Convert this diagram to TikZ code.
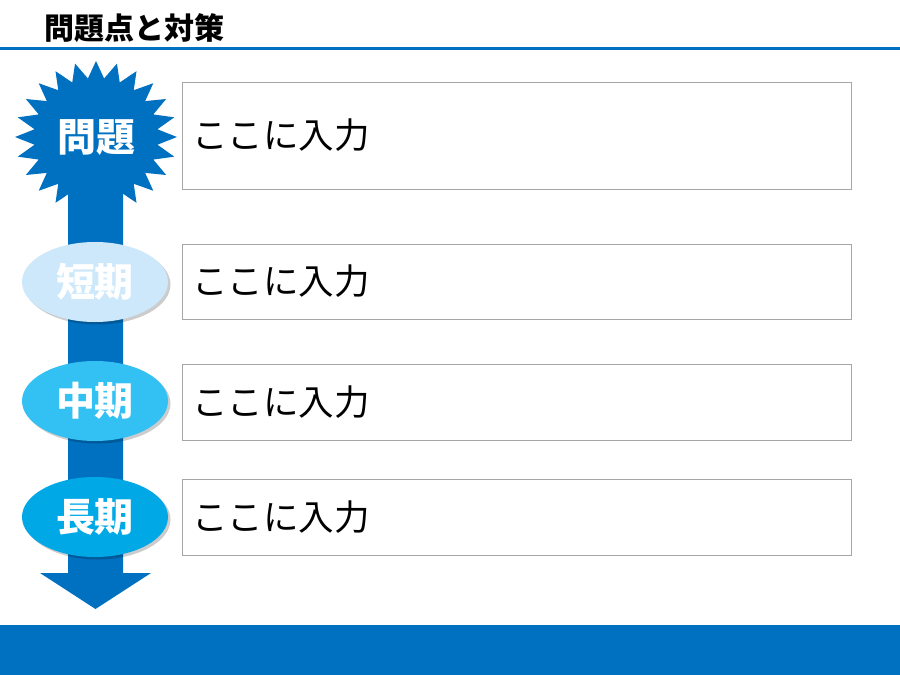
\documentclass[tikz,border=0pt]{standalone}
\usepackage{fontspec}
\setmainfont{Noto Sans CJK JP}
\usetikzlibrary{shapes.geometric,shadows}
\definecolor{mainblue}{HTML}{0070C0}
\definecolor{shortc}{HTML}{CCE8FA}
\definecolor{midc}{HTML}{33C0F2}
\definecolor{longc}{HTML}{00A8E6}
\definecolor{boxline}{HTML}{A6A6A6}
\tikzset{
  inbox/.style={draw=boxline, line width=0.8pt, fill=white, minimum width=669pt,
    text width=649pt, inner sep=10pt, align=left, font=\fontsize{35.5}{35.5}\selectfont},
  term/.style={ellipse, minimum width=146pt, minimum height=80pt, inner sep=0pt,
    text=white, font=\bfseries\fontsize{39}{39}\selectfont,
    drop shadow={shadow xshift=2.5pt, shadow yshift=-2.5pt, fill=black, opacity=0.2}},
}
\begin{document}
\begin{tikzpicture}[x=1pt,y=-1pt]
\useasboundingbox (0,0) rectangle (900,675);
\fill[white] (0,0) rectangle (900,675);
% title
\node[anchor=west, inner sep=0pt, font=\bfseries\fontsize{30}{30}\selectfont] (title) at (44,28) {問題点と対策};
\fill[mainblue] (0,46.5) rectangle (900,50);
% bottom bar
\fill[mainblue] (0,625) rectangle (900,675);
% timeline arrow
\fill[mainblue] (68,150) -- (123,150) -- (123,573) -- (151,573) -- (95.5,609) -- (40,573) -- (68,573) -- cycle;
% starburst
\fill[mainblue] plot[samples at={0,...,47}, variable=\i]
  ({96+ifthenelse(mod(\i,2)==0,81,62)*cos(90+7.5*\i)},{137-ifthenelse(mod(\i,2)==0,76,59)*sin(90+7.5*\i)}) -- cycle;
\node[text=white, font=\bfseries\fontsize{39}{39}\selectfont] (prob) at (96,138) {問題};
% term ellipses
\node[term, fill=shortc] (short) at (95,282) {短期};
\node[term, fill=midc] (mid) at (95,401) {中期};
\node[term, fill=longc] (long) at (95,517) {長期};
% input boxes
\node[inbox, minimum height=107pt] (b1) at (516.5,135.5) {ここに入力};
\node[inbox, minimum height=75pt] (b2) at (516.5,281.5) {ここに入力};
\node[inbox, minimum height=76pt] (b3) at (516.5,402) {ここに入力};
\node[inbox, minimum height=76pt] (b4) at (516.5,517) {ここに入力};
\end{tikzpicture}
\end{document}
